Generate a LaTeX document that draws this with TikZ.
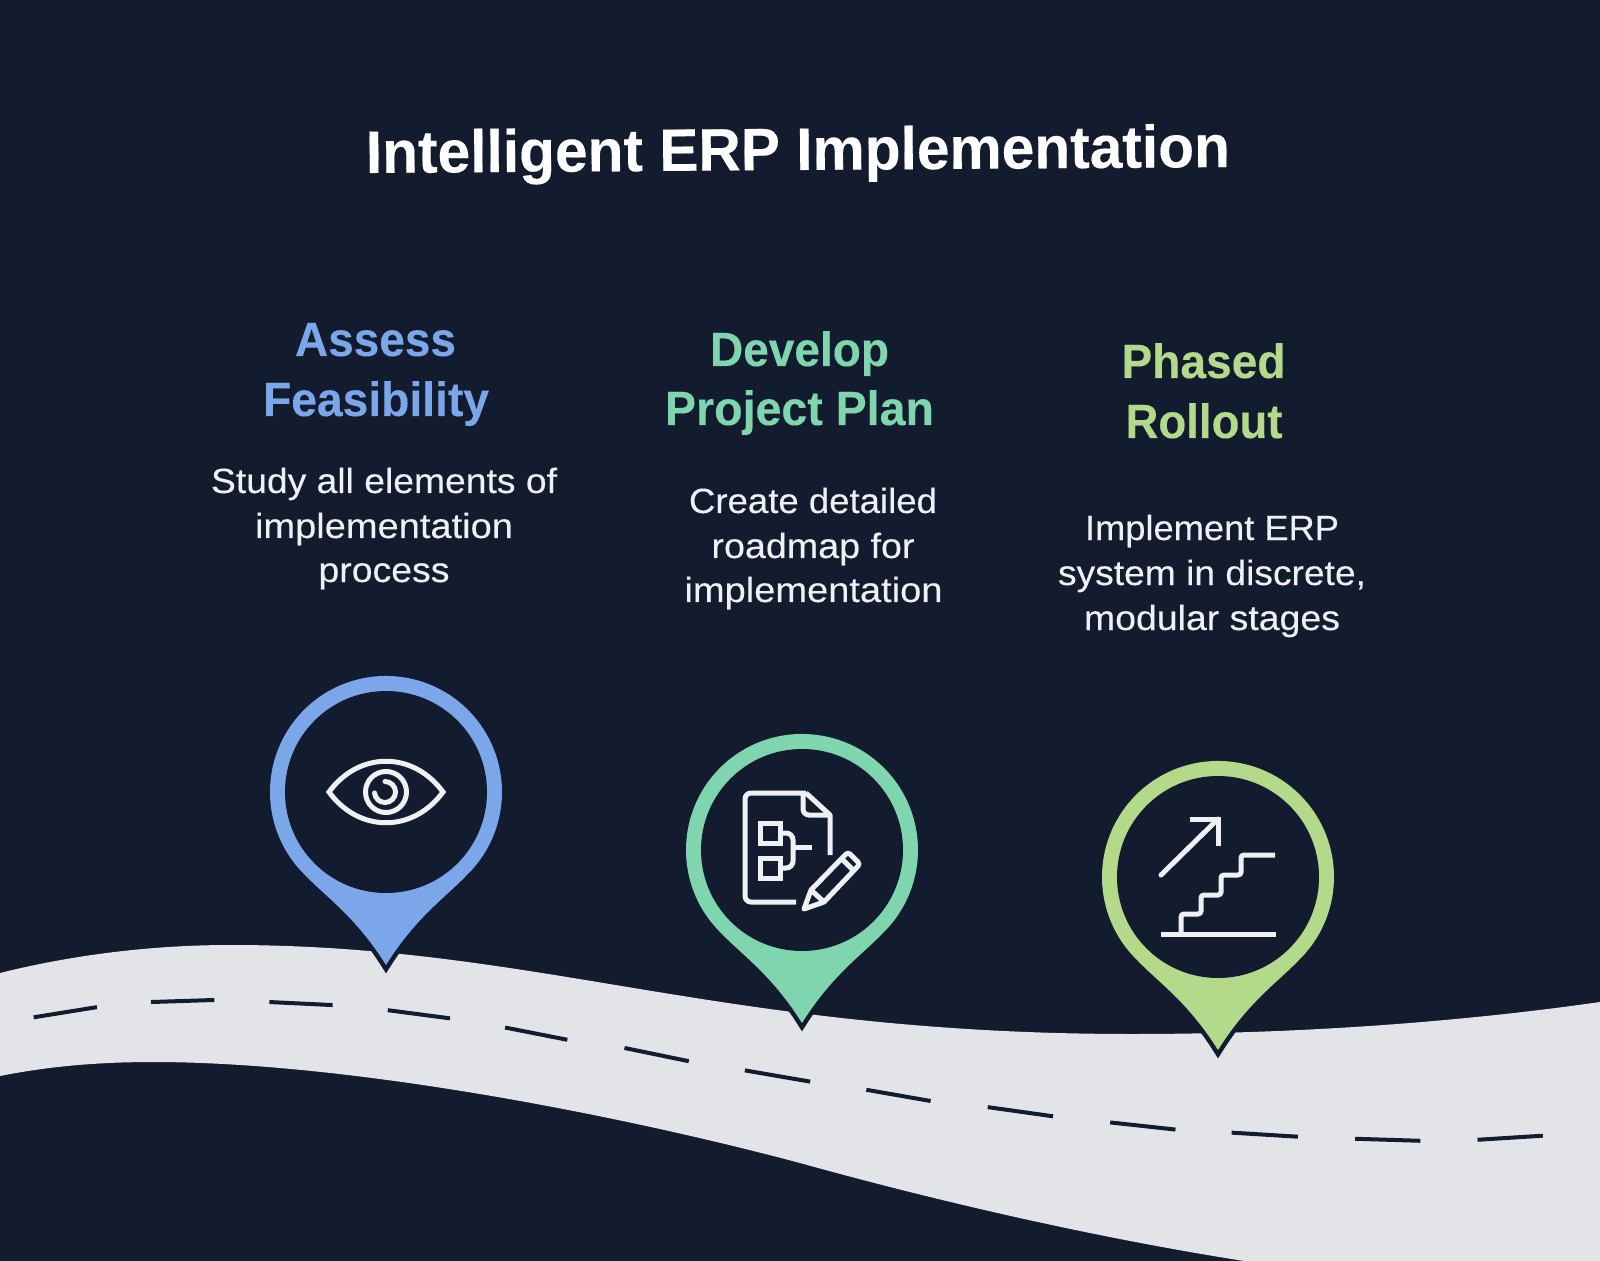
\documentclass[tikz,border=0pt]{standalone}
\usepackage{fontspec}
\usepackage{graphicx}
\setmainfont{Liberation Sans}
\definecolor{bgc}{HTML}{121C2E}
\definecolor{roadc}{HTML}{E3E4E8}
\definecolor{bluec}{HTML}{7CA6EA}
\definecolor{tealc}{HTML}{7FD6AE}
\definecolor{limec}{HTML}{B3D98A}
\definecolor{iconc}{HTML}{EEF0F4}
\newcommand\tw[2]{\resizebox{\dimexpr#1pt/2\relax}{\height}{#2}}
\newcommand\titlefont{\fontsize{30}{30}\selectfont\bfseries\addfontfeature{FakeBold=0.2}}
\newcommand\headfont{\fontsize{24}{24}\selectfont\bfseries\addfontfeature{FakeBold=0.2}}
\newcommand\bodyfont{\fontsize{17.5}{18}\selectfont\addfontfeature{FakeBold=0.2}}
\newcommand\pinpath{(0,173) .. controls (-30,125) and (-60,105) .. (-80.6,83.4) arc[start angle=134,end angle=406,radius=116] .. controls (60,105) and (30,125) .. cycle}
\tikzset{
  lab/.style={anchor=base,inner sep=0pt,outer sep=0pt},
  pinout/.style={draw=bgc,line width=4.5pt,miter limit=10,line join=miter},
  iconline/.style={draw=iconc,line width=2.5pt,fill=none},
  dashline/.style={draw=bgc,line width=2pt}
}
\begin{document}
\begin{tikzpicture}[x=0.5pt,y=-0.5pt]
\useasboundingbox (0,0) rectangle (1600,1261);
\fill[bgc] (0,0) rectangle (1600,1261);
\clip (0,0) rectangle (1600,1261);
% road
\fill[roadc] (0,973) .. controls (80,953) and (160,945) .. (230,945)
  .. controls (540,945) and (720,1034) .. (1132,1034)
  .. controls (1300,1034) and (1460,1022) .. (1600,1002)
  -- (1640,1300) -- (1440,1296) -- (1244,1261)
  .. controls (1060,1232) and (890,1188) .. (800,1163)
  .. controls (620,1115) and (350,1062) .. (153,1062)
  .. controls (100,1062) and (50,1066) .. (0,1076) -- cycle;
\begin{scope}[x=0.5102pt,y=-0.5102pt]
\foreach \a/\b/\c/\d in {33/997/95/987,148/982/210/980,264/982/326/985,380/990/441/998,495/1007/556/1019,612/1027/675/1040,730/1049/794/1060,849/1068/912/1079,968/1085/1032/1094,1088/1100/1152/1107,1207/1110/1272/1114,1328/1116/1392/1118,1448/1117/1512/1113}
  \draw[dashline] (\a,\b) -- (\c,\d);
\end{scope}
% title
\node[lab,rotate=0.4,text=white] (title) at (798,170) {\titlefont\tw{864}{Intelligent ERP Implementation}};
% headings
\node[lab,text=bluec] (h1a) at (375.5,356) {\headfont\tw{161}{Assess}};
\node[lab,text=bluec] (h1b) at (376,416) {\headfont\tw{226}{Feasibility}};
\node[lab,text=tealc] (h2a) at (799.5,366) {\headfont\tw{179}{Develop}};
\node[lab,text=tealc] (h2b) at (799.5,425) {\headfont\tw{269}{Project Plan}};
\node[lab,text=limec] (h3a) at (1203.5,378) {\headfont\tw{164}{Phased}};
\node[lab,text=limec] (h3b) at (1204,438) {\headfont\tw{157}{Rollout}};
% body
\node[lab,text=iconc] (b1a) at (384,493) {\bodyfont\tw{346}{Study all elements of}};
\node[lab,text=iconc] (b1b) at (384,538) {\bodyfont\tw{258}{implementation}};
\node[lab,text=iconc] (b1c) at (384,582) {\bodyfont\tw{131}{process}};
\node[lab,text=iconc] (b2a) at (813,513) {\bodyfont\tw{248}{Create detailed}};
\node[lab,text=iconc] (b2b) at (813,558) {\bodyfont\tw{203}{roadmap for}};
\node[lab,text=iconc] (b2c) at (813.5,602) {\bodyfont\tw{258}{implementation}};
\node[lab,text=iconc] (b3a) at (1212,540) {\bodyfont\tw{254}{Implement ERP}};
\node[lab,text=iconc] (b3b) at (1212,585) {\bodyfont\tw{308}{system in discrete,}};
\node[lab,text=iconc] (b3c) at (1212,630) {\bodyfont\tw{256}{modular stages}};
% pin 1
\begin{scope}[shift={(386,792)}]
\path[pinout] \pinpath;
\fill[bluec] \pinpath;
\fill[bgc] (0,0) circle[radius=101];
\draw[iconline,line join=miter] (-57,0) .. controls (-27,-41) and (27,-41) .. (57,0) .. controls (27,41) and (-27,41) .. cycle;
\draw[iconline] (0,0) circle[radius=20.5];
\draw[iconline,line cap=round] (-1,-10.5) arc[start angle=-90,end angle=175,radius=10.5];
\end{scope}
% pin 2
\begin{scope}[shift={(802,850)}]
\path[pinout] \pinpath;
\fill[tealc] \pinpath;
\fill[bgc] (0,0) circle[radius=101];
\draw[iconline,rounded corners=3pt] (-6,52) -- (-57,52) -- (-57,-57) -- (4,-57);
\draw[iconline,line join=round] (4,-57) -- (28,-35) -- (28,5);
\draw[iconline,rounded corners=3pt] (1,-56) -- (1,-35) -- (28,-35);
\draw[iconline] (-42,-27) rectangle (-22,-7);
\draw[iconline] (-42,8) rectangle (-22,28);
\draw[iconline,rounded corners=3.5pt] (-22,-17) -- (-9,-17) -- (-9,18) -- (-22,18);
\draw[iconline] (-9,-3) -- (10,-3);
\draw[iconline,rounded corners=1.5pt] (9,40) -- (46,2) -- (58,14) -- (22,52);
\draw[iconline,line join=round] (9,40) -- (2,59) -- (22,52) -- cycle;
\draw[iconline] (39,8) -- (52,21);
\end{scope}
% pin 3
\begin{scope}[shift={(1218,877)}]
\path[pinout] \pinpath;
\fill[limec] \pinpath;
\fill[bgc] (0,0) circle[radius=101];
\draw[iconline,line cap=round] (-57,-2) -- (0,-58);
\draw[iconline] (-28,-58) -- (0,-58) -- (0,-31);
\draw[iconline] (-57,57) -- (58,57);
\draw[iconline,rounded corners=1.5pt] (-37,57) -- (-37,37) -- (-17,37) -- (-17,18) -- (3,18) -- (3,-2) -- (23,-2) -- (23,-22) -- (57,-22);
\end{scope}
\end{tikzpicture}
\end{document}
